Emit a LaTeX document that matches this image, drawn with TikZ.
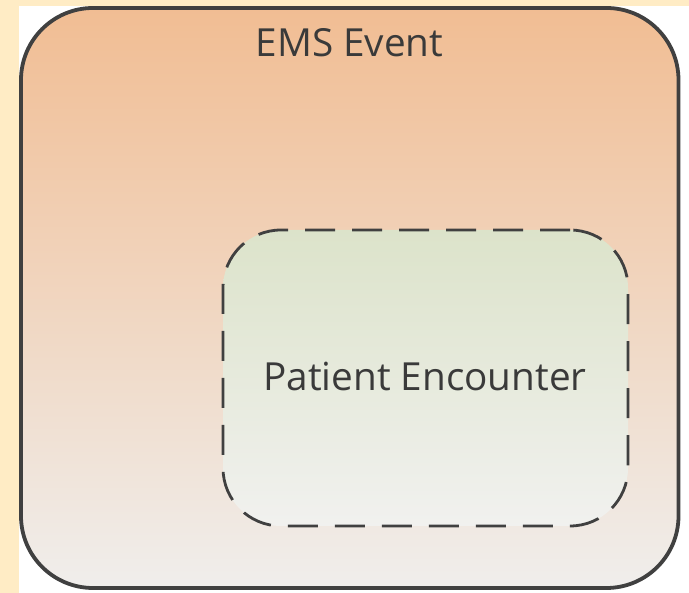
\documentclass[tikz,border=0pt]{standalone}
\usepackage{fontspec}
\setmainfont{Open Sans}
\usetikzlibrary{positioning}
\definecolor{pagecream}{RGB}{255,236,197}
\definecolor{outertop}{RGB}{241,189,147}
\definecolor{outerbot}{RGB}{240,238,236}
\definecolor{innertop}{RGB}{220,227,202}
\definecolor{innerbot}{RGB}{241,241,239}
\definecolor{edgegray}{RGB}{64,64,64}
\definecolor{textgray}{RGB}{58,58,58}
\tikzset{
  outerbox/.style={draw=edgegray, line width=3.8pt, rounded corners=72pt,
    top color=outertop, bottom color=outerbot, inner sep=0pt, outer sep=0pt},
  innerbox/.style={draw=edgegray, line width=2.8pt, rounded corners=58pt,
    dash pattern=on 30pt off 17pt,
    top color=innertop, bottom color=innerbot, inner sep=0pt, outer sep=0pt},
  boxtext/.style={text=textgray, font=\fontsize{38.7pt}{46pt}\selectfont, inner sep=0pt}
}
\begin{document}
\begin{tikzpicture}
\useasboundingbox (0,0) rectangle (689pt,593pt);
\fill[pagecream] (0,0) rectangle (689pt,593pt);
\fill[white] (19pt,0) rectangle (689pt,587pt);
\node[outerbox, minimum width=657.5pt, minimum height=580pt] (outer) at (349.75pt,295pt) {};
\node[innerbox, minimum width=405pt, minimum height=296pt] (inner) at (425.5pt,215pt) {};
\node[boxtext, anchor=base] (emslabel) at (349.5pt,536pt) {EMS Event};
\node[boxtext, anchor=base] (pelabel) at (425pt,202pt) {Patient Encounter};
\end{tikzpicture}
\end{document}
